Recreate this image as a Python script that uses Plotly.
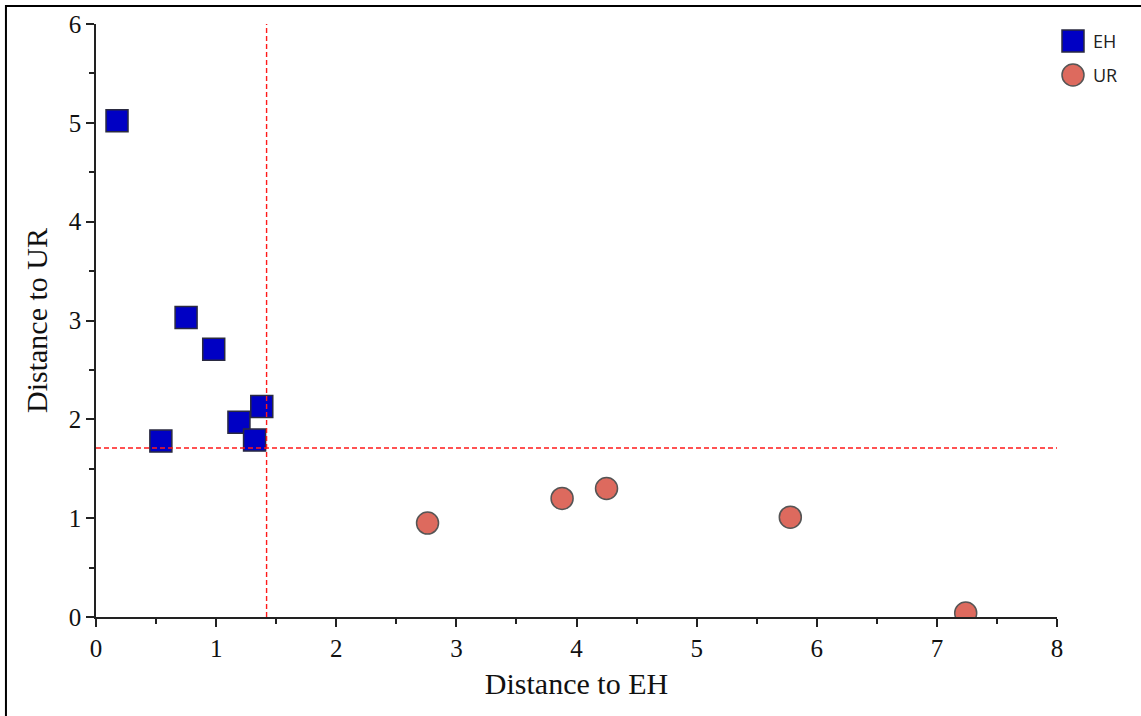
import plotly.graph_objects as go

# Distances of each sample to the two class centroids
eh_to_eh = [0.175, 0.54, 0.75, 0.98, 1.19, 1.32, 1.38]
eh_to_ur = [5.02, 1.78, 3.03, 2.71, 1.97, 1.79, 2.13]

ur_to_eh = [2.76, 3.88, 4.25, 5.78, 7.24]
ur_to_ur = [0.95, 1.20, 1.30, 1.01, 0.04]

# Critical distances (cut-off lines)
crit_eh = 1.42
crit_ur = 1.71

x_range = [0, 8]
y_range = [0, 6]

serif = "Liberation Serif, Times New Roman, serif"
eh_color, eh_edge = "#0000C4", "#2a2a40"
ur_color, ur_edge = "#DD6A5E", "#555555"

fig = go.Figure()

fig.add_trace(go.Scatter(
    x=eh_to_eh, y=eh_to_ur, mode="markers", name="EH",
    marker=dict(symbol="square", size=22, color=eh_color,
                line=dict(color=eh_edge, width=1.5)),
))
fig.add_trace(go.Scatter(
    x=ur_to_eh, y=ur_to_ur, mode="markers", name="UR",
    marker=dict(symbol="circle", size=22, color=ur_color,
                line=dict(color=ur_edge, width=1.5)),
))

# Cut-off lines
fig.add_shape(type="line", xref="x", yref="y",
              x0=crit_eh, x1=crit_eh, y0=0, y1=y_range[1],
              line=dict(color="#FF1A1A", width=1.4, dash="5px,3px"))
fig.add_shape(type="line", xref="x", yref="y",
              x0=0, x1=x_range[1], y0=crit_ur, y1=crit_ur,
              line=dict(color="#FF1A1A", width=1.4, dash="5px,3px"))

# Outer frame
fig.add_shape(type="rect", xref="paper", yref="paper",
              x0=-0.0937, x1=1.2, y0=-0.3, y1=1.0304,
              line=dict(color="black", width=2), layer="below")

# Legend box drawn in paper space (larger symbols than the built-in legend)
def px_x(p):
    return (p - 96) / 961

def px_y(p):
    return (617 - p) / 593

fig.add_shape(type="rect", xref="paper", yref="paper",
              x0=px_x(1062), x1=px_x(1084), y0=px_y(52), y1=px_y(30),
              fillcolor=eh_color, line=dict(color=eh_edge, width=1.5))
fig.add_shape(type="circle", xref="paper", yref="paper",
              x0=px_x(1062), x1=px_x(1084), y0=px_y(86), y1=px_y(64),
              fillcolor=ur_color, line=dict(color=ur_edge, width=1.5))
for label, yc in (("EH", 41), ("UR", 75)):
    fig.add_annotation(xref="paper", yref="paper", x=px_x(1091), y=px_y(yc),
                       xanchor="left", yanchor="middle", showarrow=False,
                       text=label,
                       font=dict(family="Open Sans, sans-serif", size=18,
                                 color="#222222"))

axis_common = dict(
    showgrid=False, zeroline=False, showline=True,
    linecolor="#222222", linewidth=1.5,
    ticks="outside", ticklen=8, tickwidth=1.5, tickcolor="#222222",
    tickfont=dict(family=serif, size=25, color="#111111"),
    minor=dict(ticks="outside", ticklen=5, tickwidth=1.5,
               tickcolor="#222222", dtick=0.5),
    dtick=1,
)

fig.update_xaxes(range=x_range, title=dict(text="Distance to EH", standoff=12,
                 font=dict(family=serif, size=30, color="#111111")),
                 **axis_common)
fig.update_yaxes(range=y_range, title=dict(text="Distance to UR", standoff=12,
                 font=dict(family=serif, size=30, color="#111111")),
                 **axis_common)

fig.update_layout(
    width=1141, height=716,
    margin=dict(l=96, r=84, t=24, b=99),
    plot_bgcolor="white", paper_bgcolor="white",
    showlegend=False,
)

fig.write_html("out.html")
